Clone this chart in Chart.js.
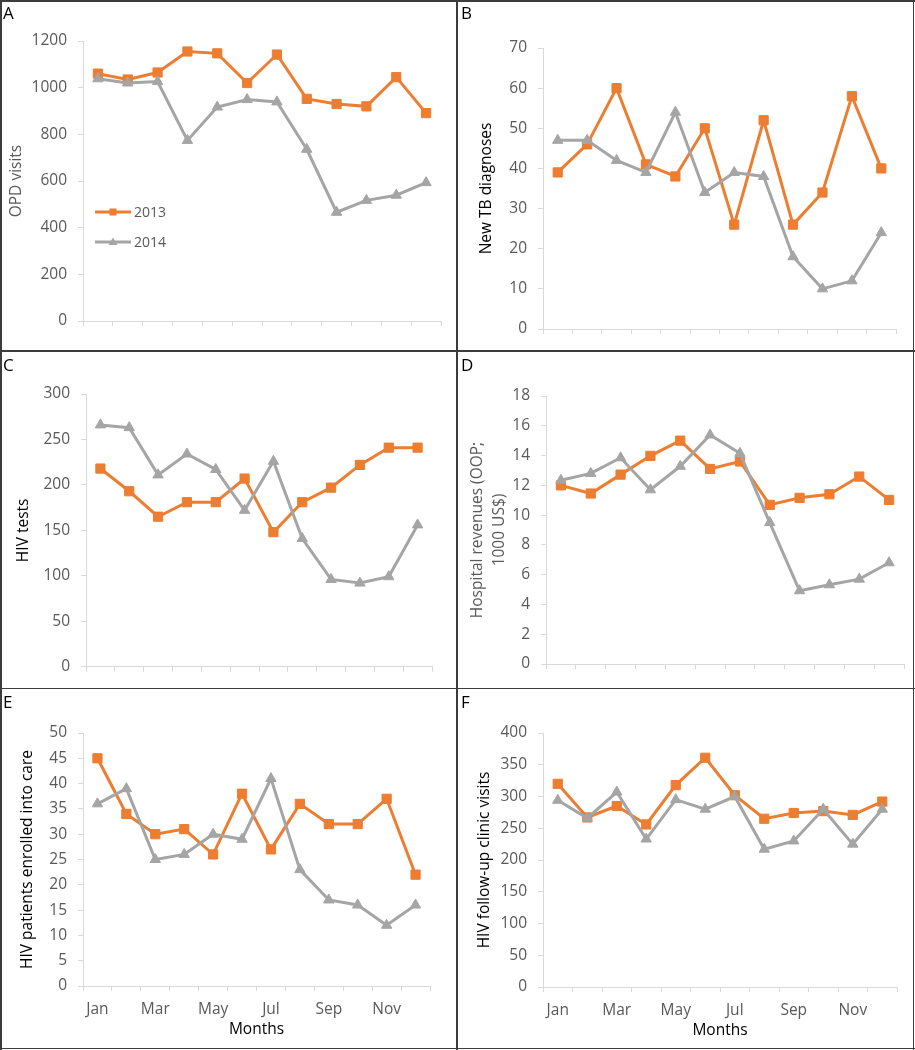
<!DOCTYPE html>
<html>
<head>
<meta charset="utf-8">
<script src="https://cdn.jsdelivr.net/npm/chart.js@4.4.1/dist/chart.umd.min.js"></script>
<style>
    body { margin: 0; background: #fff; }
    #page { position: relative; width: 915px; height: 1050px; overflow: hidden; font-family: 'Open Sans', sans-serif; }
    .rule { position: absolute; background: #3c3c3c; }
    .letter { position: absolute; font-size: 17px; color: #000; line-height: normal; }
    canvas { position: absolute; }
</style>
</head>
<body>
<div id="page"></div>
<script>
// Monthly values, 2013 vs 2014
const months = ['Jan', 'Feb', 'Mar', 'Apr', 'May', 'Jun', 'Jul', 'Aug', 'Sep', 'Oct', 'Nov', 'Dec'];
const years = ['2013', '2014'];

const opdVisits2013 = [1060, 1035, 1065, 1155, 1147, 1020, 1142, 952, 930, 920, 1045, 891];
const opdVisits2014 = [1038, 1020, 1026, 774, 917, 949, 939, 736, 466, 517, 539, 593];

const tbDiagnoses2013 = [39, 46, 60, 41, 38, 50, 26, 52, 26, 34, 58, 40];
const tbDiagnoses2014 = [47, 47, 42, 39, 54, 34, 39, 38, 18, 10, 12, 24];

const hivTests2013 = [218, 193, 165, 181, 181, 207, 148, 181, 197, 222, 241, 241];
const hivTests2014 = [266, 263, 211, 234, 217, 172, 226, 141, 96, 92, 99, 156];

const revenues2013 = [12.0, 11.45, 12.72, 13.98, 15.0, 13.1, 13.6, 10.69, 11.16, 11.4, 12.59, 11.02];
const revenues2014 = [12.34, 12.8, 13.85, 11.7, 13.28, 15.38, 14.15, 9.5, 4.92, 5.32, 5.7, 6.8];

const enrolled2013 = [45, 34, 30, 31, 26, 38, 27, 36, 32, 32, 37, 22];
const enrolled2014 = [36, 39, 25, 26, 30, 29, 41, 23, 17, 16, 12, 16];

const followUp2013 = [320, 267, 285, 256, 318, 361, 302, 265, 274, 277, 271, 292];
const followUp2014 = [294, 266, 307, 233, 295, 280, 300, 217, 230, 280, 225, 280];

// y axis ranges: [max, step]
const opdTicks = [1200, 200];
const tbTicks = [70, 10];
const hivTestTicks = [300, 50];
const revenueTicks = [18, 2];
const enrolledTicks = [50, 5];
const followUpTicks = [400, 50];

const ORANGE = '#ED7D31';
const GREY = '#A5A5A5';
const AXIS_GREY = '#d9d9d9';
const LABEL_GREY = '#595959';

// Legend drawn inside the plot area (panel A only)
const plotLegend = {
    id: 'plotLegend',
    afterDatasetsDraw(chart, args, opts) {
        if (!opts.display) return;
        const { ctx, chartArea } = chart;
        ctx.save();
        chart.data.datasets.forEach((ds, i) => {
            const x = chartArea.left + opts.left;
            const y = chartArea.top + opts.top + i * opts.spacing;
            ctx.strokeStyle = ds.borderColor;
            ctx.lineWidth = 3;
            ctx.beginPath();
            ctx.moveTo(x, y);
            ctx.lineTo(x + opts.lineLength, y);
            ctx.stroke();

            const cx = x + opts.lineLength / 2;
            ctx.fillStyle = ds.borderColor;
            ctx.beginPath();
            if (ds.pointStyle === 'rect') {
                ctx.rect(cx - 3.5, y - 3.5, 7, 7);
            } else {
                ctx.moveTo(cx, y - 4.5);
                ctx.lineTo(cx + 4.5, y + 3);
                ctx.lineTo(cx - 4.5, y + 3);
                ctx.closePath();
            }
            ctx.fill();

            ctx.fillStyle = LABEL_GREY;
            ctx.font = '14px "Open Sans"';
            ctx.textBaseline = 'middle';
            ctx.textAlign = 'left';
            ctx.fillText(ds.label, x + opts.lineLength + 3, y + 1);
        });
        ctx.restore();
    }
};

// Panel layout in page pixels
const panels = [
    { letter: 'A', box: [0, 0, 456, 350], plot: [83, 41, 441, 321], titleX: 17,
      title: 'OPD visits', titleColor: LABEL_GREY, s2013: opdVisits2013, s2014: opdVisits2014, ticks: opdTicks, legend: true },
    { letter: 'B', box: [458, 0, 455, 350], plot: [543, 48, 896, 329], titleX: 487,
      title: 'New TB diagnoses', titleColor: '#000', s2013: tbDiagnoses2013, s2014: tbDiagnoses2014, ticks: tbTicks },
    { letter: 'C', box: [0, 352, 456, 335], plot: [86, 394, 432, 669], titleX: 24,
      title: 'HIV tests', titleColor: '#000', s2013: hivTests2013, s2014: hivTests2014, ticks: hivTestTicks },
    { letter: 'D', box: [458, 352, 455, 335], plot: [546, 396, 904, 664], titleX: 478,
      title: ['Hospital revenues (OOP;', '1000 US$)'], titleColor: LABEL_GREY, titleLine: 22,
      s2013: revenues2013, s2014: revenues2014, ticks: revenueTicks },
    { letter: 'E', box: [0, 689, 456, 358], plot: [83, 733, 430, 986], titleX: 28,
      title: 'HIV patients enrolled into care', titleColor: '#000', s2013: enrolled2013, s2014: enrolled2014,
      ticks: enrolledTicks, monthLabels: true },
    { letter: 'F', box: [458, 689, 455, 358], plot: [543, 733, 897, 987], titleX: 485,
      title: 'HIV follow-up clinic visits', titleColor: '#000', s2013: followUp2013, s2014: followUp2014,
      ticks: followUpTicks, monthLabels: true }
];

const page = document.getElementById('page');

// Frame rules
[[0, 0, 915, 1.5], [0, 1047.5, 915, 1.5], [0, 0, 1.5, 1050], [912.5, 0, 1.5, 1050],
 [456, 0, 1.5, 1050], [0, 350, 915, 1.5], [0, 687.8, 915, 1.5]].forEach(r => {
    const d = document.createElement('div');
    d.className = 'rule';
    d.style.left = r[0] + 'px';
    d.style.top = r[1] + 'px';
    d.style.width = r[2] + 'px';
    d.style.height = r[3] + 'px';
    page.appendChild(d);
});

function buildPanel(p) {
    const [bx, by, bw, bh] = p.box;
    const [pl, pt, pr, pb] = p.plot;

    const canvas = document.createElement('canvas');
    canvas.width = bw;
    canvas.height = bh;
    canvas.style.left = bx + 'px';
    canvas.style.top = by + 'px';
    page.appendChild(canvas);

    const letter = document.createElement('div');
    letter.className = 'letter';
    letter.textContent = p.letter;
    letter.style.left = (bx + 3) + 'px';
    letter.style.top = (by + 1) + 'px';
    page.appendChild(letter);

    // Work out paddings so the plot area lands where it is in the figure
    const titleLine = p.titleLine || 18;
    const padLeft = p.titleX - bx - titleLine / 2;
    const yWidth = pl - bx - padLeft;
    const xHeight = p.monthLabels ? 53 : 10;
    const padTop = pt - by;
    const padRight = bx + bw - pr;
    const padBottom = by + bh - pb - xHeight;

    new Chart(canvas, {
        type: 'line',
        data: {
            labels: months,
            datasets: [
                {
                    label: years[0],
                    data: p.s2013,
                    borderColor: ORANGE,
                    backgroundColor: ORANGE,
                    borderWidth: 3,
                    pointStyle: 'rect',
                    pointRadius: 6.5,
                    pointBorderWidth: 1,
                    tension: 0,
                    order: 1
                },
                {
                    label: years[1],
                    data: p.s2014,
                    borderColor: GREY,
                    backgroundColor: GREY,
                    borderWidth: 3,
                    pointStyle: 'triangle',
                    pointRadius: 6,
                    pointBorderWidth: 1,
                    tension: 0,
                    order: 0
                }
            ]
        },
        options: {
            responsive: false,
            animation: false,
            layout: {
                padding: { left: padLeft, top: padTop, right: padRight, bottom: padBottom }
            },
            scales: {
                x: {
                    offset: true,
                    grid: {
                        offset: true,
                        drawOnChartArea: false,
                        drawTicks: true,
                        tickLength: 5,
                        color: AXIS_GREY
                    },
                    border: { color: AXIS_GREY, width: 1 },
                    ticks: {
                        autoSkip: false,
                        maxRotation: 0,
                        padding: 9,
                        color: LABEL_GREY,
                        font: { family: 'Open Sans', size: 15.5 },
                        callback: (val, idx) => (p.monthLabels && idx % 2 === 0 ? months[idx] : '')
                    },
                    title: {
                        display: !!p.monthLabels,
                        text: 'Months',
                        color: '#000',
                        padding: { top: 0, bottom: 0 },
                        font: { family: 'Open Sans', size: 15.5 }
                    },
                    afterFit: scale => { scale.height = xHeight; }
                },
                y: {
                    min: 0,
                    max: p.ticks[0],
                    grid: {
                        drawOnChartArea: false,
                        drawTicks: true,
                        tickLength: 5,
                        color: AXIS_GREY
                    },
                    border: { color: AXIS_GREY, width: 1 },
                    ticks: {
                        stepSize: p.ticks[1],
                        padding: 11,
                        color: LABEL_GREY,
                        font: { family: 'Open Sans', size: 15.5 },
                        callback: value => String(value)
                    },
                    title: {
                        display: true,
                        text: p.title,
                        color: p.titleColor,
                        padding: { top: 0, bottom: 0 },
                        font: { family: 'Open Sans', size: 15.5, lineHeight: titleLine + 'px' }
                    },
                    afterFit: scale => { scale.width = yWidth; }
                }
            },
            plugins: {
                legend: { display: false },
                tooltip: { enabled: false },
                plotLegend: { display: !!p.legend, left: 12, top: 171, spacing: 30, lineLength: 36 }
            }
        },
        plugins: [plotLegend]
    });
}

panels.forEach(buildPanel);
</script>
</body>
</html>
